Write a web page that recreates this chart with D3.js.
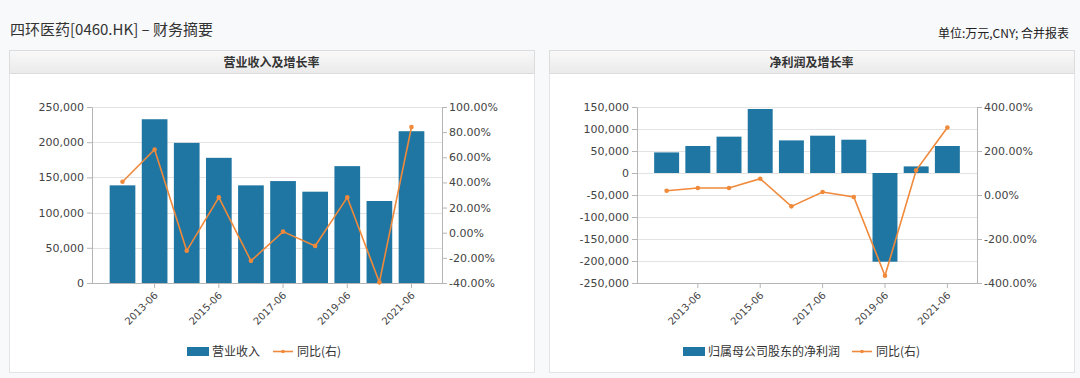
<!DOCTYPE html>
<html lang="zh">
<head>
  <meta charset="UTF-8">
  <title>四环医药 财务摘要</title>
  <script src="https://d3js.org/d3.v7.min.js"></script>
  <style>
    body {
      margin: 0;
      background: #f8f9fb;
      font-family: "Noto Sans CJK SC", "Noto Sans", sans-serif;
    }
    svg { display: block; }
  </style>
</head>
<body>

<svg width="1080" height="378"></svg>

<script>
  // data (万元, %)
  const years = ["2012-06", "2013-06", "2014-06", "2015-06", "2016-06",
                 "2017-06", "2018-06", "2019-06", "2020-06", "2021-06"];
  const tickYears = ["2013-06", "2015-06", "2017-06", "2019-06", "2021-06"];

  const revenue = [138700, 232600, 199000, 177800, 138700, 144800, 129700, 166000, 116500, 215600];
  const revenueGrowth = [40.5, 66.2, -14.4, 28.1, -22.4, 0.9, -10.5, 28.1, -39.5, 84.1];

  const netProfit = [46800, 61400, 82600, 145500, 74100, 84800, 75700, -201600, 15000, 61400];
  const profitGrowth = [19.5, 31.8, 31.8, 74, -51.6, 13.6, -9, -367, 112, 307];

  const revTicks = [0, 50000, 100000, 150000, 200000, 250000];
  const revPctTicks = [-40, -20, 0, 20, 40, 60, 80, 100];
  const profitTicks = [-250000, -200000, -150000, -100000, -50000, 0, 50000, 100000, 150000];
  const profitPctTicks = [-400, -200, 0, 200, 400];

  const BLUE = "#1f76a3";
  const ORANGE = "#f0893a";

  const svg = d3.select("svg");
  const numFmt = d => d3.format(",")(d).replace("\u2212", "-");
  const pctFmt = d => d.toFixed(2) + "%";

  // page header
  svg.append("text")
    .attr("x", 10).attr("y", 35)
    .attr("font-size", 15).attr("fill", "#333")
    .text("四环医药[0460.HK] – 财务摘要");

  svg.append("text")
    .attr("x", 1069).attr("y", 38)
    .attr("text-anchor", "end")
    .attr("font-size", 12).attr("fill", "#222")
    .text("单位:万元,CNY; 合并报表");

  const defs = svg.append("defs");
  const grad = defs.append("linearGradient").attr("id", "hdr")
    .attr("x1", 0).attr("y1", 0).attr("x2", 0).attr("y2", 1);
  grad.append("stop").attr("offset", "0%").attr("stop-color", "#f9f9f9");
  grad.append("stop").attr("offset", "100%").attr("stop-color", "#eaeaea");

  function drawPanel(cfg) {
    const g = svg.append("g");

    // panel box + header
    g.append("rect")
      .attr("x", cfg.px + 0.5).attr("y", 50.5)
      .attr("width", 525).attr("height", 322)
      .attr("fill", "#fff").attr("stroke", "#e2e4e8");
    g.append("rect")
      .attr("x", cfg.px + 0.5).attr("y", 50.5)
      .attr("width", 525).attr("height", 23)
      .attr("fill", "url(#hdr)").attr("stroke", "#dcdcdc");
    g.append("text")
      .attr("x", cfg.px + 262.5).attr("y", 66.5)
      .attr("text-anchor", "middle")
      .attr("font-size", 12).attr("font-weight", "bold").attr("fill", "#333")
      .text(cfg.title);

    const top = 107, bottom = 283;

    const x = d3.scaleBand()
      .domain(years)
      .range([cfg.x0, cfg.x1])
      .paddingInner(0.2)
      .paddingOuter(0.55);

    const y = d3.scaleLinear().domain(cfg.yDomain).range([bottom, top]);
    const y2 = d3.scaleLinear().domain(cfg.y2Domain).range([bottom, top]);

    // gridlines
    g.append("g").selectAll("line")
      .data(cfg.yTicks)
      .join("line")
      .attr("x1", cfg.x0).attr("x2", cfg.x1)
      .attr("y1", d => Math.round(y(d)) + 0.5)
      .attr("y2", d => Math.round(y(d)) + 0.5)
      .attr("stroke", "#e3e3e3");

    // bars
    g.append("g").selectAll("rect")
      .data(cfg.bars)
      .join("rect")
      .attr("x", (d, i) => x(years[i]))
      .attr("width", x.bandwidth())
      .attr("y", d => Math.min(y(d), y(0)))
      .attr("height", d => Math.abs(y(d) - y(0)))
      .attr("fill", BLUE);

    // axes
    const axisStyle = sel => {
      sel.selectAll("path, line").attr("stroke", "#b5b5b5");
      sel.selectAll("text")
        .attr("fill", "#444")
        .attr("font-size", 11)
        .attr("font-family", "DejaVu Sans, sans-serif");
    };

    g.append("g")
      .attr("transform", `translate(${cfg.x0},0)`)
      .call(d3.axisLeft(y).tickValues(cfg.yTicks).tickFormat(numFmt).tickSize(5).tickSizeOuter(0).tickPadding(3))
      .call(axisStyle);

    g.append("g")
      .attr("transform", `translate(${cfg.x1},0)`)
      .call(d3.axisRight(y2).tickValues(cfg.y2Ticks).tickFormat(pctFmt).tickSize(5).tickSizeOuter(0).tickPadding(2))
      .call(axisStyle);

    const xAxis = g.append("g")
      .attr("transform", `translate(0,${bottom})`)
      .call(d3.axisBottom(x).tickValues(tickYears).tickSize(5).tickSizeOuter(0))
      .call(axisStyle);
    xAxis.select(".domain").attr("d", `M${cfg.x0},0.5H${cfg.x1}`);
    xAxis.selectAll("text")
      .attr("font-size", 10)
      .attr("text-anchor", "end")
      .attr("dy", 0)
      .attr("transform", "translate(4,13) rotate(-45)")
      .attr("x", 0).attr("y", 0);

    // growth line
    const line = d3.line()
      .x((d, i) => x(years[i]) + x.bandwidth() / 2)
      .y(d => y2(d));

    g.append("path")
      .datum(cfg.growth)
      .attr("d", line)
      .attr("fill", "none")
      .attr("stroke", ORANGE)
      .attr("stroke-width", 1.6);

    g.append("g").selectAll("circle")
      .data(cfg.growth)
      .join("circle")
      .attr("cx", (d, i) => x(years[i]) + x.bandwidth() / 2)
      .attr("cy", d => y2(d))
      .attr("r", 2.3)
      .attr("fill", ORANGE);

    // legend
    const lg = g.append("g").attr("font-size", 12).attr("fill", "#333");
    lg.append("rect")
      .attr("x", cfg.lx).attr("y", 347)
      .attr("width", 22).attr("height", 9)
      .attr("fill", BLUE);
    lg.append("text")
      .attr("x", cfg.lx + 25).attr("y", 356)
      .attr("fill", "#333")
      .text(cfg.barName);
    lg.append("line")
      .attr("x1", cfg.lx2).attr("x2", cfg.lx2 + 20)
      .attr("y1", 351.5).attr("y2", 351.5)
      .attr("stroke", ORANGE).attr("stroke-width", 1.6);
    lg.append("circle")
      .attr("cx", cfg.lx2 + 10).attr("cy", 351.5).attr("r", 1.8)
      .attr("fill", ORANGE);
    lg.append("text")
      .attr("x", cfg.lx2 + 24).attr("y", 356)
      .attr("fill", "#333")
      .text("同比(右)");
  }

  drawPanel({
    px: 9, title: "营业收入及增长率",
    x0: 92, x1: 442,
    yDomain: [0, 250000], yTicks: revTicks,
    y2Domain: [-40, 100], y2Ticks: revPctTicks,
    bars: revenue, growth: revenueGrowth,
    barName: "营业收入", lx: 187, lx2: 273
  });

  drawPanel({
    px: 549, title: "净利润及增长率",
    x0: 637, x1: 977,
    yDomain: [-250000, 150000], yTicks: profitTicks,
    y2Domain: [-400, 400], y2Ticks: profitPctTicks,
    bars: netProfit, growth: profitGrowth,
    barName: "归属母公司股东的净利润", lx: 683, lx2: 852
  });
</script>

</body>
</html>
